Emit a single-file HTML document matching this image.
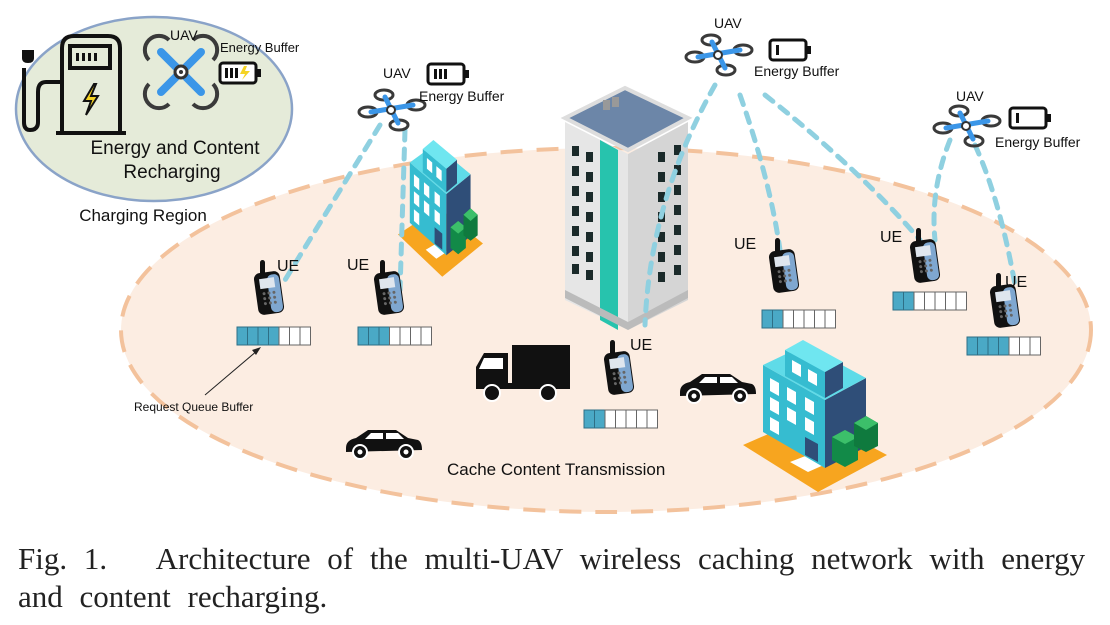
<!DOCTYPE html>
<html><head><meta charset="utf-8"><style>
html,body{margin:0;padding:0;background:#fff;}
svg{display:block;}
text{font-family:"Liberation Sans",sans-serif;fill:#111;}
.cap{font-family:"Liberation Serif",serif;font-size:31px;fill:#222;word-spacing:9px;}
</style></head><body>
<svg width="1110" height="625" viewBox="0 0 1110 625" xmlns="http://www.w3.org/2000/svg">
<defs>
<g id="drone">
  <g fill="none" stroke="#3a3a3a" stroke-width="3">
    <ellipse cx="-23" cy="2" rx="9" ry="5"/>
    <ellipse cx="-7" cy="-15" rx="9" ry="5"/>
    <ellipse cx="25" cy="-5" rx="9" ry="5"/>
    <ellipse cx="8" cy="15" rx="9" ry="5"/>
  </g>
  <g stroke="#3b96e8" stroke-width="5" stroke-linecap="round">
    <line x1="-20" y1="2" x2="22" y2="-5"/>
    <line x1="-6" y1="-13" x2="7" y2="13"/>
  </g>
  <circle r="4" fill="#fff" stroke="#333" stroke-width="2"/>
</g>
<g id="batt">
  <rect x="0" y="0" width="36" height="20" rx="3" fill="#fff" stroke="#111" stroke-width="3"/>
  <rect x="36" y="6" width="5" height="8" fill="#111"/>
</g>
<g id="phone">
  <rect x="4" y="-12" width="5" height="16" rx="2.5" fill="#111"/>
  <rect x="0" y="0" width="26" height="42" rx="6" fill="#111" transform="rotate(-8 13 21)"/>
  <rect x="13" y="3" width="12" height="38" rx="5" fill="#7fa7d0" transform="rotate(-8 13 21)"/>
  <rect x="5" y="6" width="15" height="10" fill="#dfe6ee" transform="rotate(-8 13 21)"/>
  <g fill="#666" transform="rotate(-8 13 21)">
    <circle cx="8" cy="21" r="1.5"/><circle cx="13" cy="21" r="1.5"/><circle cx="18" cy="21" r="1.5"/>
    <circle cx="8" cy="26" r="1.5"/><circle cx="13" cy="26" r="1.5"/><circle cx="18" cy="26" r="1.5"/>
    <circle cx="8" cy="31" r="1.5"/><circle cx="13" cy="31" r="1.5"/><circle cx="18" cy="31" r="1.5"/>
  </g>
</g>
<g id="cell"><rect width="10.5" height="18" fill="#fff" stroke="#666" stroke-width="1"/></g>
<g id="fcell"><rect width="10.5" height="18" fill="#4aa9c6" stroke="#2e6f86" stroke-width="1"/></g>
<g id="bld">
  <polygon points="743,445 812,415 887,455 818,492" fill="#f7a51f"/>
  <polygon points="790,462 808,455 826,464 808,472" fill="#fff"/>
  <polygon points="763,365 825,400 825,468 763,432" fill="#36bcd0"/>
  <polygon points="825,400 866,378 866,447 825,468" fill="#2f4e78"/>
  <polygon points="763,365 805,345 866,378 825,400" fill="#5fdbe8"/>
  <polygon points="785,350 825,372 825,398 785,376" fill="#36bcd0"/>
  <polygon points="825,372 843,362 843,388 825,398" fill="#2f4e78"/>
  <polygon points="785,350 803,340 843,362 825,372" fill="#6fe6f0"/>
  <g fill="#fff">
    <polygon points="792,360 801,365 801,377 792,372"/><polygon points="808,369 817,374 817,386 808,381"/>
    <polygon points="770,378 779,383 779,396 770,391"/><polygon points="787,387 796,392 796,405 787,400"/><polygon points="805,397 814,402 814,415 805,410"/>
    <polygon points="770,397 779,402 779,415 770,410"/><polygon points="787,407 796,412 796,425 787,420"/><polygon points="805,417 814,422 814,435 805,430"/>
    <polygon points="770,417 779,422 779,435 770,430"/>
  </g>
  <polygon points="805,437 818,444 818,462 805,455" fill="#2f4e78"/>
  <rect x="840" y="438" width="4" height="14" fill="#a35a1d"/>
  <polygon points="832,437 845,430 858,437 858,460 845,467 832,460" fill="#128a48"/>
  <polygon points="832,437 845,430 858,437 845,444" fill="#3cbf6a"/>
  <rect x="862" y="425" width="4" height="14" fill="#a35a1d"/>
  <polygon points="854,423 866,416 878,423 878,446 866,452 854,446" fill="#0f7a3e"/>
  <polygon points="854,423 866,416 878,423 866,430" fill="#3cbf6a"/>
</g>
<g id="car">
  <path d="M0,18 Q0,10 10,8 L22,0 L50,0 L62,8 L72,10 Q76,12 76,20 L0,22 Z" fill="#111"/>
  <polygon points="25,3 37,3 37,9 19,9" fill="#fff"/><polygon points="40,3 52,3 58,9 40,9" fill="#fff"/>
  <circle cx="14" cy="22" r="7" fill="#111" stroke="#fff" stroke-width="2"/><circle cx="60" cy="22" r="7" fill="#111" stroke="#fff" stroke-width="2"/>
  <circle cx="14" cy="22" r="2.5" fill="#fff"/><circle cx="60" cy="22" r="2.5" fill="#fff"/>
</g>
</defs>

<ellipse cx="606" cy="330" rx="485" ry="182" fill="#fcede2" stroke="#f3c29c" stroke-width="4" stroke-dasharray="22,14"/>

<ellipse cx="154" cy="109" rx="138" ry="92" fill="#e5ebd9" stroke="#8aa3c8" stroke-width="2.5"/>
<g fill="none" stroke="#111" stroke-width="4">
  <path d="M62,132 L62,48 Q62,36 74,36 L108,36 Q120,36 120,48 L120,132"/>
  <line x1="56" y1="133" x2="126" y2="133"/>
  <rect x="70" y="46" width="40" height="22"/>
  <path d="M62,82 L46,82 Q38,82 38,92 L38,122 Q38,130 30,130 L30,130 Q24,130 24,122 L24,68"/>
</g>
<g fill="#111"><rect x="76" y="53" width="3" height="8"/><rect x="82" y="53" width="3" height="8"/><rect x="88" y="53" width="3" height="8"/><rect x="94" y="53" width="3" height="8"/></g>
<path d="M22,50 L34,50 L34,58 Q34,63 28,63 Q22,63 22,58 Z" fill="#111"/>
<polygon points="94,84 84,101 91,101 86,115 98,96 91,96 96,84" fill="#f5d322" stroke="#111" stroke-width="2"/>
<g transform="translate(181,72)">
  <g fill="none" stroke="#3a3a3a" stroke-width="4">
    <path d="M-32,-12 A11,11 0 1 1 -12,-32"/><path d="M12,-32 A11,11 0 1 1 32,-12"/>
    <path d="M32,12 A11,11 0 1 1 12,32"/><path d="M-12,32 A11,11 0 1 1 -32,12"/>
  </g>
  <g stroke="#3b96e8" stroke-width="8" stroke-linecap="round"><line x1="-20" y1="-20" x2="20" y2="20"/><line x1="20" y1="-20" x2="-20" y2="20"/></g>
  <circle r="6" fill="#fff" stroke="#333" stroke-width="3"/><circle r="2" fill="#333"/>
</g>
<text x="170" y="40" font-size="14">UAV</text>
<text x="220" y="52" font-size="13">Energy Buffer</text>
<use href="#batt" x="220" y="63"/>
<g fill="#111"><rect x="225" y="68" width="3" height="10"/><rect x="230" y="68" width="3" height="10"/><rect x="235" y="68" width="3" height="10"/></g>
<polygon points="244,66 240,74 245,74 242,80 250,71 245,71 247,66" fill="#f5d322"/>
<text x="175" y="154" font-size="19" text-anchor="middle">Energy and Content</text>
<text x="172" y="178" font-size="19" text-anchor="middle">Recharging</text>
<text x="143" y="221" font-size="17" text-anchor="middle">Charging Region</text>

<polygon points="565,118 625,88 688,118 628,150" fill="#6c86a8" stroke="#ddd" stroke-width="4"/>
<rect x="603" y="100" width="7" height="10" fill="#999"/><rect x="612" y="97" width="7" height="10" fill="#999"/>
<polygon points="565,122 628,154 628,330 565,300" fill="#e6e6e6"/>
<polygon points="600,140 618,150 618,330 600,320" fill="#27c3ad"/>
<polygon points="628,154 688,122 688,300 628,330" fill="#d5d5d5"/>
<g fill="#1a2a2a">
  <rect x="572" y="146" width="7" height="10"/><rect x="586" y="152" width="7" height="10"/>
  <rect x="572" y="166" width="7" height="10"/><rect x="586" y="172" width="7" height="10"/>
  <rect x="572" y="186" width="7" height="10"/><rect x="586" y="192" width="7" height="10"/>
  <rect x="572" y="206" width="7" height="10"/><rect x="586" y="212" width="7" height="10"/>
  <rect x="572" y="226" width="7" height="10"/><rect x="586" y="232" width="7" height="10"/>
  <rect x="572" y="246" width="7" height="10"/><rect x="586" y="252" width="7" height="10"/>
  <rect x="572" y="264" width="7" height="10"/><rect x="586" y="270" width="7" height="10"/>
  <rect x="658" y="152" width="7" height="10"/><rect x="674" y="145" width="7" height="10"/>
  <rect x="658" y="172" width="7" height="10"/><rect x="674" y="165" width="7" height="10"/>
  <rect x="658" y="192" width="7" height="10"/><rect x="674" y="185" width="7" height="10"/>
  <rect x="658" y="212" width="7" height="10"/><rect x="674" y="205" width="7" height="10"/>
  <rect x="658" y="232" width="7" height="10"/><rect x="674" y="225" width="7" height="10"/>
  <rect x="658" y="252" width="7" height="10"/><rect x="674" y="245" width="7" height="10"/>
  <rect x="658" y="272" width="7" height="10"/><rect x="674" y="265" width="7" height="10"/>
</g>
<polygon points="565,290 628,322 688,290 688,298 628,330 565,298" fill="#bbb"/>

<g transform="translate(398,-166) scale(0.59,0.9) translate(-743,0)"><use href="#bld"/></g>

<use href="#bld"/>

<g transform="translate(476,345)">
  <rect x="36" y="0" width="58" height="40" fill="#111"/>
  <path d="M0,40 L0,22 L8,8 L32,8 L32,40 Z" fill="#111"/>
  <polygon points="8,13 27,13 27,24 3,24" fill="#fff"/>
  <rect x="0" y="38" width="94" height="6" fill="#111"/>
  <circle cx="16" cy="48" r="8" fill="#111" stroke="#fff" stroke-width="2"/><circle cx="72" cy="48" r="8" fill="#111" stroke="#fff" stroke-width="2"/>
</g>
<use href="#car" x="346" y="430"/>
<use href="#car" x="680" y="374"/>

<g fill="none" stroke="#8fd0e0" stroke-width="5" stroke-dasharray="10,9" stroke-linecap="round">
  <path d="M380,125 L285,280"/>
  <path d="M405,130 L400,290"/>
  <path d="M715,85 Q650,200 645,325"/>
  <path d="M740,95 Q770,180 780,250"/>
  <path d="M765,95 Q860,170 920,240"/>
  <path d="M950,140 Q930,190 935,240"/>
  <path d="M975,145 Q1000,200 1015,285"/>
</g>

<use href="#drone" x="391" y="110"/>
<text x="383" y="78" font-size="14">UAV</text>
<use href="#batt" x="428" y="64"/>
<g fill="#111"><rect x="434" y="69" width="3" height="10"/><rect x="439" y="69" width="3" height="10"/><rect x="444" y="69" width="3" height="10"/></g>
<text x="419" y="101" font-size="14">Energy Buffer</text>

<use href="#drone" x="718" y="55"/>
<text x="714" y="28" font-size="14">UAV</text>
<use href="#batt" x="770" y="40"/>
<g fill="#111"><rect x="776" y="45" width="3" height="10"/></g>
<text x="754" y="76" font-size="14">Energy Buffer</text>

<use href="#drone" x="966" y="126"/>
<text x="956" y="101" font-size="14">UAV</text>
<use href="#batt" x="1010" y="108"/>
<g fill="#111"><rect x="1016" y="113" width="3" height="10"/></g>
<text x="995" y="147" font-size="14">Energy Buffer</text>

<use href="#phone" x="256" y="272"/><text x="277" y="271" font-size="16">UE</text>
<use href="#phone" x="376" y="272"/><text x="347" y="270" font-size="16">UE</text>
<use href="#phone" x="771" y="250"/><text x="734" y="249" font-size="16">UE</text>
<use href="#phone" x="912" y="240"/><text x="880" y="242" font-size="16">UE</text>
<use href="#phone" x="992" y="285"/><text x="1005" y="287" font-size="16">UE</text>
<use href="#phone" x="606" y="352"/><text x="630" y="350" font-size="16">UE</text>

<g transform="translate(237,327)"><use href="#fcell"/><use href="#fcell" x="10.5"/><use href="#fcell" x="21"/><use href="#fcell" x="31.5"/><use href="#cell" x="42"/><use href="#cell" x="52.5"/><use href="#cell" x="63"/></g>
<g transform="translate(358,327)"><use href="#fcell"/><use href="#fcell" x="10.5"/><use href="#fcell" x="21"/><use href="#cell" x="31.5"/><use href="#cell" x="42"/><use href="#cell" x="52.5"/><use href="#cell" x="63"/></g>
<g transform="translate(762,310)"><use href="#fcell"/><use href="#fcell" x="10.5"/><use href="#cell" x="21"/><use href="#cell" x="31.5"/><use href="#cell" x="42"/><use href="#cell" x="52.5"/><use href="#cell" x="63"/></g>
<g transform="translate(893,292)"><use href="#fcell"/><use href="#fcell" x="10.5"/><use href="#cell" x="21"/><use href="#cell" x="31.5"/><use href="#cell" x="42"/><use href="#cell" x="52.5"/><use href="#cell" x="63"/></g>
<g transform="translate(967,337)"><use href="#fcell"/><use href="#fcell" x="10.5"/><use href="#fcell" x="21"/><use href="#fcell" x="31.5"/><use href="#cell" x="42"/><use href="#cell" x="52.5"/><use href="#cell" x="63"/></g>
<g transform="translate(584,410)"><use href="#fcell"/><use href="#fcell" x="10.5"/><use href="#cell" x="21"/><use href="#cell" x="31.5"/><use href="#cell" x="42"/><use href="#cell" x="52.5"/><use href="#cell" x="63"/></g>

<line x1="205" y1="395" x2="258" y2="350" stroke="#222" stroke-width="1"/>
<polygon points="261,347 252,350 256,355" fill="#222"/>
<text x="134" y="411" font-size="12">Request Queue Buffer</text>

<text x="447" y="475" font-size="17">Cache Content Transmission</text>

<text x="18" y="569" class="cap">Fig. 1.&#160;&#160; Architecture of the multi-UAV wireless caching network with energy</text>
<text x="18" y="607" class="cap">and content recharging.</text>
</svg>
</body></html>
